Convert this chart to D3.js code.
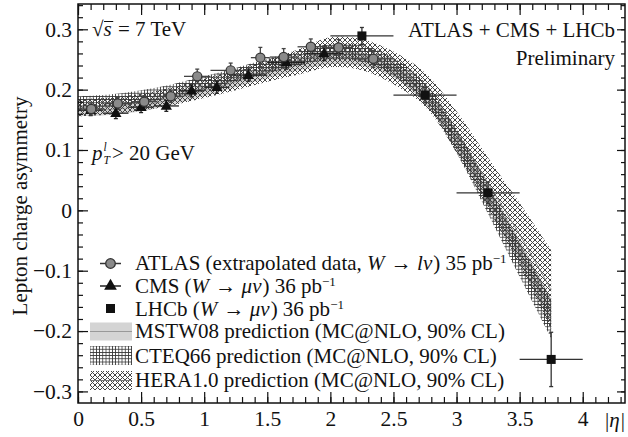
<!DOCTYPE html>
<html>
<head>
<meta charset="utf-8">
<script src="https://cdn.jsdelivr.net/npm/d3@7"></script>
<style>
  body { margin: 0; background: #fff; }
  svg { display: block; }
  text { font-family: "Liberation Serif", "DejaVu Serif", serif; white-space: pre; }
  .axis text { font-family: "Liberation Serif", "DejaVu Serif", serif; font-size: 21.5px; fill: #111; }
  .axis line { stroke: #111; stroke-width: 1.2; }
  .axis path { display: none; }
  .lbl { font-size: 21px; fill: #111; }
</style>
</head>
<body>
<div id="chart"></div>
<script>
// theory band grid and bands (MC@NLO, 90% CL)
var etaGrid = [0, 0.25, 0.5, 0.75, 1.0, 1.25, 1.5, 1.75, 2.0, 2.25, 2.5, 2.75, 3.0, 3.25, 3.5, 3.75];
var mstwMid = [0.165, 0.167, 0.173, 0.184, 0.198, 0.213, 0.228, 0.242, 0.252, 0.250, 0.232, 0.190, 0.115, 0.025, -0.068, -0.168];
var mstwHw  = [0.009, 0.009, 0.009, 0.009, 0.009, 0.009, 0.009, 0.010, 0.010, 0.011, 0.012, 0.013, 0.015, 0.017, 0.019, 0.022];
var cteqMid = [0.178, 0.181, 0.188, 0.198, 0.211, 0.225, 0.239, 0.252, 0.262, 0.260, 0.238, 0.195, 0.115, 0.018, -0.082, -0.180];
var cteqHw  = [0.011, 0.011, 0.011, 0.011, 0.011, 0.011, 0.012, 0.012, 0.013, 0.014, 0.015, 0.017, 0.020, 0.024, 0.028, 0.032];
var heraMid = [0.170, 0.173, 0.179, 0.189, 0.202, 0.216, 0.231, 0.246, 0.262, 0.258, 0.236, 0.200, 0.130, 0.045, -0.040, -0.132];
var heraHw  = [0.014, 0.014, 0.014, 0.015, 0.016, 0.017, 0.018, 0.021, 0.025, 0.026, 0.027, 0.028, 0.034, 0.042, 0.052, 0.066];

// ATLAS (extrapolated data)
var atlasEta = [0.105, 0.315, 0.525, 0.735, 0.945, 1.21, 1.445, 1.63, 1.845, 2.065, 2.34];
var atlasLo  = [0, 0.21, 0.42, 0.63, 0.84, 1.05, 1.37, 1.52, 1.74, 1.95, 2.18];
var atlasHi  = [0.21, 0.42, 0.63, 0.84, 1.05, 1.37, 1.52, 1.74, 1.95, 2.18, 2.5];
var atlasA   = [0.168, 0.177, 0.180, 0.189, 0.222, 0.232, 0.253, 0.254, 0.271, 0.270, 0.251];
var atlasErr = [0.010, 0.010, 0.010, 0.010, 0.012, 0.012, 0.017, 0.014, 0.013, 0.013, 0.014];

// CMS muons
var cmsEta = [0.1, 0.3, 0.5, 0.7, 0.9, 1.1, 1.35, 1.65, 1.95];
var cmsLo  = [0, 0.2, 0.4, 0.6, 0.8, 1.0, 1.2, 1.5, 1.8];
var cmsHi  = [0.2, 0.4, 0.6, 0.8, 1.0, 1.2, 1.5, 1.8, 2.1];
var cmsA   = [0.166, 0.161, 0.171, 0.173, 0.198, 0.204, 0.224, 0.245, 0.260];
var cmsErr = [0.009, 0.009, 0.009, 0.009, 0.010, 0.010, 0.010, 0.011, 0.012];

// LHCb muons
var lhcbEta = [2.25, 2.75, 3.25, 3.75];
var lhcbLo  = [2.0, 2.5, 3.0, 3.5];
var lhcbHi  = [2.5, 3.0, 3.5, 4.0];
var lhcbA   = [0.289, 0.191, 0.029, -0.247];
var lhcbErr = [0.014, 0.013, 0.018, 0.045];

var xMajor = [0, 0.5, 1, 1.5, 2, 2.5, 3, 3.5, 4];
var yMajor = [-0.3, -0.2, -0.1, 0, 0.1, 0.2, 0.3];

var w = 628, h = 437;
var margin = {top: 4, right: 3, bottom: 34, left: 78};

var svg = d3.select("#chart").append("svg")
    .attr("width", w)
    .attr("height", h);

var xScale = d3.scaleLinear().domain([0, 4.335]).range([margin.left, w - margin.right]);
var yScale = d3.scaleLinear().domain([-0.3192, 0.3419]).range([h - margin.bottom, margin.top]);

// hatch patterns for the bands
var defs = svg.append("defs");
defs.append("pattern")
    .attr("id", "cteq").attr("patternUnits", "userSpaceOnUse")
    .attr("width", 3.2).attr("height", 3.2)
    .append("path").attr("d", "M0,0.4H3.2M0.4,0V3.2")
    .attr("stroke", "#333").attr("stroke-width", 0.8).attr("fill", "none");
defs.append("pattern")
    .attr("id", "hera").attr("patternUnits", "userSpaceOnUse")
    .attr("width", 5).attr("height", 5)
    .append("path").attr("d", "M0,0L5,5M5,0L0,5")
    .attr("stroke", "#444").attr("stroke-width", 1).attr("fill", "none");

defs.append("clipPath").attr("id", "plotclip").append("rect")
    .attr("x", margin.left).attr("y", margin.top)
    .attr("width", w - margin.left - margin.right)
    .attr("height", h - margin.top - margin.bottom);

var plot = svg.append("g").attr("clip-path", "url(#plotclip)");

function band(mid, hw) {
    return d3.area()
        .x(function(d, i) { return xScale(etaGrid[i]); })
        .y0(function(d, i) { return yScale(mid[i] - hw[i]); })
        .y1(function(d, i) { return yScale(mid[i] + hw[i]); })
        .curve(d3.curveCatmullRom)(etaGrid);
}
function centre(mid) {
    return d3.line()
        .x(function(d, i) { return xScale(etaGrid[i]); })
        .y(function(d, i) { return yScale(mid[i]); })
        .curve(d3.curveCatmullRom)(etaGrid);
}

plot.append("path").attr("d", band(mstwMid, mstwHw)).attr("fill", "#d4d4d4");
plot.append("path").attr("d", centre(mstwMid)).attr("fill", "none").attr("stroke", "#999").attr("stroke-width", 1);
plot.append("path").attr("d", band(heraMid, heraHw)).attr("fill", "url(#hera)");
plot.append("path").attr("d", centre(heraMid)).attr("fill", "none").attr("stroke", "#777").attr("stroke-width", 0.8);
plot.append("path").attr("d", band(cteqMid, cteqHw)).attr("fill", "url(#cteq)");

// error bars + markers
function errBars(eta, lo, hi, a, err, col) {
    var g = plot.append("g").attr("stroke", col).attr("stroke-width", 1.3);
    eta.forEach(function(e, i) {
        g.append("line")
            .attr("x1", xScale(lo[i])).attr("x2", xScale(hi[i]))
            .attr("y1", yScale(a[i])).attr("y2", yScale(a[i]));
        g.append("line")
            .attr("x1", xScale(e)).attr("x2", xScale(e))
            .attr("y1", yScale(a[i] - err[i])).attr("y2", yScale(a[i] + err[i]));
        [a[i] - err[i], a[i] + err[i]].forEach(function(v) {
            g.append("line")
                .attr("x1", xScale(e) - 2).attr("x2", xScale(e) + 2)
                .attr("y1", yScale(v)).attr("y2", yScale(v));
        });
    });
}
errBars(cmsEta, cmsLo, cmsHi, cmsA, cmsErr, "#222");
errBars(atlasEta, atlasLo, atlasHi, atlasA, atlasErr, "#444");
errBars(lhcbEta, lhcbLo, lhcbHi, lhcbA, lhcbErr, "#333");

var tri = d3.symbol().type(d3.symbolTriangle).size(55);
plot.selectAll(".cms").data(cmsEta).enter().append("path")
    .attr("class", "cms")
    .attr("d", tri)
    .attr("transform", function(d, i) { return "translate(" + xScale(d) + "," + (yScale(cmsA[i]) + 0.5) + ")"; })
    .attr("fill", "#111");
plot.selectAll(".atlas").data(atlasEta).enter().append("circle")
    .attr("class", "atlas")
    .attr("cx", function(d) { return xScale(d); })
    .attr("cy", function(d, i) { return yScale(atlasA[i]); })
    .attr("r", 4.6)
    .attr("fill", "#8a8a8a").attr("stroke", "#333").attr("stroke-width", 1.2);
plot.selectAll(".lhcb").data(lhcbEta).enter().append("rect")
    .attr("class", "lhcb")
    .attr("x", function(d) { return xScale(d) - 4.5; })
    .attr("y", function(d, i) { return yScale(lhcbA[i]) - 4.5; })
    .attr("width", 9).attr("height", 9)
    .attr("fill", "#111");

// axes, ticks pointing inwards
var xMinor = d3.range(0, 4.34, 0.1);
var yMinor = d3.range(-0.3, 0.342, 0.02);
var yFmt = function(v) { return Math.abs(v) < 1e-9 ? "0" : d3.format(".1f")(v); };
var xFmt = function(v) { return d3.format("")(v); };
var bottomY = h - margin.bottom, rightX = w - margin.right;

svg.append("g").attr("class", "axis").attr("transform", "translate(0," + bottomY + ")")
    .call(d3.axisBottom(xScale).tickValues(xMinor).tickSize(-6).tickFormat(""));
svg.append("g").attr("class", "axis").attr("transform", "translate(0," + bottomY + ")")
    .call(d3.axisBottom(xScale).tickValues(xMajor).tickSize(-11).tickPadding(8).tickFormat(xFmt));
svg.append("g").attr("class", "axis").attr("transform", "translate(0," + margin.top + ")")
    .call(d3.axisTop(xScale).tickValues(xMinor).tickSize(-6).tickFormat(""));
svg.append("g").attr("class", "axis").attr("transform", "translate(0," + margin.top + ")")
    .call(d3.axisTop(xScale).tickValues(xMajor).tickSize(-11).tickFormat(""));
svg.append("g").attr("class", "axis").attr("transform", "translate(" + margin.left + ",0)")
    .call(d3.axisLeft(yScale).tickValues(yMinor).tickSize(-5).tickFormat(""));
svg.append("g").attr("class", "axis").attr("transform", "translate(" + margin.left + ",0)")
    .call(d3.axisLeft(yScale).tickValues(yMajor).tickSize(-10).tickPadding(6).tickFormat(yFmt));
svg.append("g").attr("class", "axis").attr("transform", "translate(" + rightX + ",0)")
    .call(d3.axisRight(yScale).tickValues(yMinor).tickSize(-4).tickFormat(""));
svg.append("g").attr("class", "axis").attr("transform", "translate(" + rightX + ",0)")
    .call(d3.axisRight(yScale).tickValues(yMajor).tickSize(-8).tickFormat(""));

svg.selectAll(".axis").attr("font-family", null).attr("font-size", null);

svg.append("rect")
    .attr("x", margin.left).attr("y", margin.top)
    .attr("width", rightX - margin.left).attr("height", bottomY - margin.top)
    .attr("fill", "none").attr("stroke", "#111").attr("stroke-width", 1.5);

// one text element per label, pieces as tspans
function rich(x0, yb, parts) {
    var t = svg.append("text").attr("class", "lbl").attr("x", x0).attr("y", yb);
    parts.forEach(function(p) {
        var s = t.append("tspan").text(p.s);
        if (p.it) s.attr("font-style", "italic");
        if (p.fs) s.attr("font-size", p.fs);
        if (p.dy) s.attr("dy", p.dy);
        if (p.dx) s.attr("dx", p.dx);
        p.node = s.node();
    });
    return t;
}

// axis titles
svg.append("text").attr("class", "lbl")
    .attr("transform", "translate(27,206) rotate(-90)")
    .attr("text-anchor", "middle")
    .text("Lepton charge asymmetry");
rich(605, 427, [{s: "|"}, {s: "η", it: true}, {s: "|", dx: 1}]);

// annotations
var rsParts = [{s: "√"}, {s: "s", it: true}, {s: " = 7 TeV", dx: 1}];
rich(92, 36, rsParts);
var sx = 92 + rsParts[0].node.getComputedTextLength();
svg.append("line")
    .attr("x1", sx + 0.5).attr("x2", sx + rsParts[1].node.getComputedTextLength() + 1.5)
    .attr("y1", 36 - 14.5).attr("y2", 36 - 14.5)
    .attr("stroke", "#111").attr("stroke-width", 1);

var ptParts = [{s: "p", it: true}, {s: "l", it: true, fs: 11.5, dy: -9.5, dx: 1}];
var ptText = rich(92, 160, ptParts);
var lw = ptParts[1].node.getComputedTextLength();
ptText.append("tspan").attr("font-style", "italic").attr("font-size", 11.5)
    .attr("dx", -lw).attr("dy", 13.5).text("T");
ptText.append("tspan").attr("dx", 2).attr("dy", -4).text("> 20 GeV");

svg.append("text").attr("class", "lbl").attr("x", 615).attr("y", 37)
    .attr("text-anchor", "end").text("ATLAS + CMS + LHCb");
svg.append("text").attr("class", "lbl").attr("x", 615).attr("y", 65)
    .attr("text-anchor", "end").text("Preliminary");

// legend
var legX = 135;
var supFs = 13;
rich(legX, 270, [{s: "ATLAS (extrapolated data, "}, {s: "W", it: true}, {s: " → ", dx: 1}, {s: "lν", it: true},
                 {s: ") 35 pb", dx: 1}, {s: "−1", fs: supFs, dy: -7}]);
rich(legX, 293, [{s: "CMS ("}, {s: "W", it: true}, {s: " → ", dx: 1}, {s: "μν", it: true},
                 {s: ") 36 pb", dx: 1}, {s: "−1", fs: supFs, dy: -7}]);
rich(legX, 315.5, [{s: "LHCb ("}, {s: "W", it: true}, {s: " → ", dx: 1}, {s: "μν", it: true},
                   {s: ") 36 pb", dx: 1}, {s: "−1", fs: supFs, dy: -7}]);
rich(legX, 338.3, [{s: "MSTW08 prediction (MC@NLO, 90% CL)"}]);
rich(legX, 362.5, [{s: "CTEQ66 prediction (MC@NLO, 90% CL)"}]);
rich(legX, 386.5, [{s: "HERA1.0 prediction (MC@NLO, 90% CL)"}]);

var lg = svg.append("g");
lg.append("line").attr("x1", 100).attr("x2", 121).attr("y1", 263.5).attr("y2", 263.5).attr("stroke", "#333").attr("stroke-width", 1.5);
lg.append("circle").attr("cx", 110.5).attr("cy", 263.5).attr("r", 4.8).attr("fill", "#8a8a8a").attr("stroke", "#333").attr("stroke-width", 1.3);
lg.append("line").attr("x1", 100).attr("x2", 121).attr("y1", 286).attr("y2", 286).attr("stroke", "#222").attr("stroke-width", 1.5);
lg.append("path").attr("d", d3.symbol().type(d3.symbolTriangle).size(70)).attr("transform", "translate(110.5,286)").attr("fill", "#111");
lg.append("rect").attr("x", 106).attr("y", 304).attr("width", 9).attr("height", 9).attr("fill", "#111");

lg.append("rect").attr("x", 90).attr("y", 322.5).attr("width", 42).attr("height", 18).attr("fill", "#d4d4d4");
lg.append("line").attr("x1", 90).attr("x2", 132).attr("y1", 331.5).attr("y2", 331.5).attr("stroke", "#999").attr("stroke-width", 1);
lg.append("rect").attr("x", 90).attr("y", 346).attr("width", 42).attr("height", 19).attr("fill", "url(#cteq)");
lg.append("rect").attr("x", 90).attr("y", 371).attr("width", 42).attr("height", 19).attr("fill", "url(#hera)");
lg.append("line").attr("x1", 90).attr("x2", 132).attr("y1", 380.5).attr("y2", 380.5).attr("stroke", "#777").attr("stroke-width", 1);
</script>
</body>
</html>
